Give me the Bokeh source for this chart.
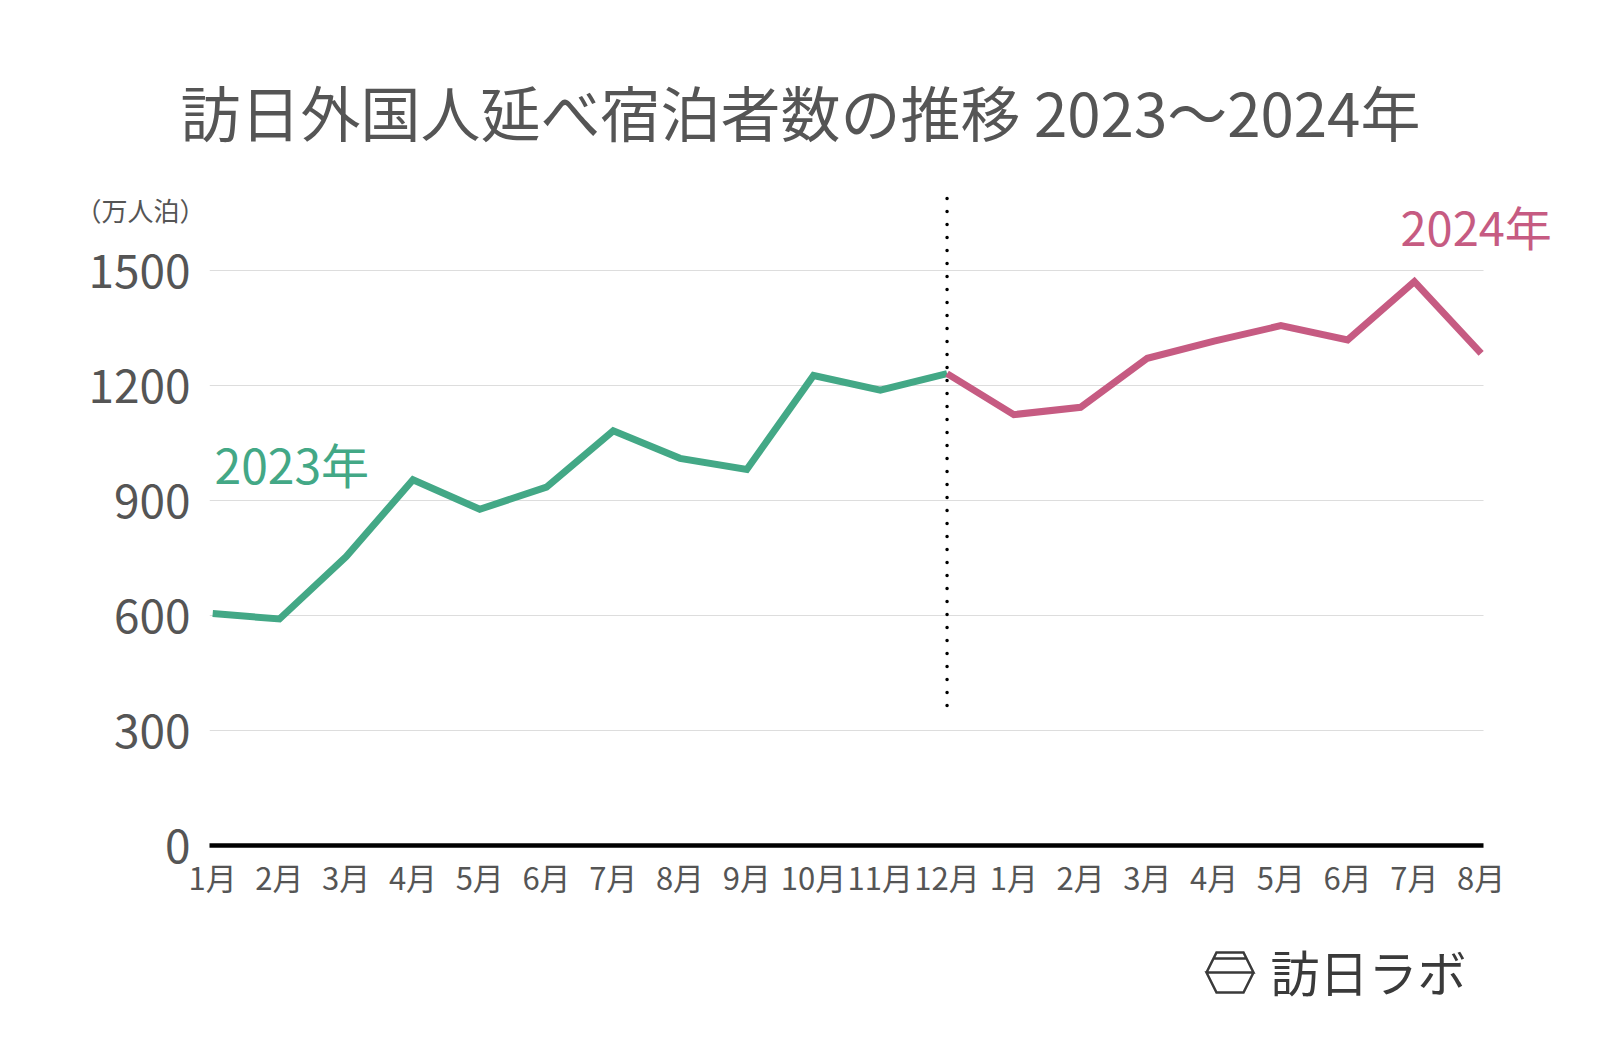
from bokeh.plotting import figure
from bokeh.layouts import column
from bokeh.models import FixedTicker, Label, Range1d, Grid
from bokeh.core.properties import value
from bokeh.embed import file_html
from bokeh.resources import INLINE

# ---- data ----
months_2023 = ["1月", "2月", "3月", "4月", "5月", "6月", "7月", "8月", "9月", "10月", "11月", "12月"]
months_2024 = ["1月", "2月", "3月", "4月", "5月", "6月", "7月", "8月"]
values_2023 = [605, 591, 754, 954, 877, 935, 1082, 1010, 981, 1226, 1188, 1231]
values_2024 = [1124, 1143, 1271, 1316, 1356, 1319, 1471, 1284]
y_ticks = [0, 300, 600, 900, 1200, 1500]

title_text = "訪日外国人延べ宿泊者数の推移 2023〜2024年"
unit_text = "（万人泊）"
label_2023 = "2023年"
label_2024 = "2024年"
logo_text = "訪日ラボ"

FONT = "Noto Sans CJK JP"
TEXT_COL = "#555555"
GREEN = "#43a886"
PINK = "#c65b82"
LOGO_COL = "#3a3a3a"

# ---- geometry (page pixels) ----
W = 1592
MAIN_H = 920
LOGO_H = 120
frame_l, frame_t, frame_b = 209, 185, 845
x0_px, dx_px = 212.2, 66.76           # first month position, month spacing
ppu = 575 / 1500.0                    # px per unit on y
data_right_px = 1483                  # right end of axis line / gridlines


def px2x(px):
    return (px - x0_px) / dx_px


def px2y(py):
    return (frame_b - py) / ppu


x_start = px2x(frame_l)
x_end = px2x(W)
x_data_end = px2x(data_right_px)
y_end = px2y(frame_t)

p = figure(width=W, height=MAIN_H, output_backend="svg", toolbar_location=None,
           x_range=Range1d(x_start, x_end), y_range=Range1d(0, y_end),
           min_border_left=frame_l, min_border_right=0,
           min_border_top=frame_t, min_border_bottom=MAIN_H - frame_b)
p.outline_line_color = None
p.background_fill_color = "white"
p.border_fill_color = "white"

# axes
tick_labels = months_2023 + months_2024
xs_all = list(range(len(tick_labels)))
p.xaxis.ticker = FixedTicker(ticks=xs_all)
p.xaxis.major_label_overrides = {i: t for i, t in zip(xs_all, tick_labels)}
p.xaxis.bounds = (x_start, x_data_end)
p.xaxis.axis_line_color = "black"
p.xaxis.axis_line_width = 4.5
p.xaxis.major_tick_line_color = None
p.xaxis.minor_tick_line_color = None
p.xaxis.major_label_text_font = FONT
p.xaxis.major_label_text_font_size = "31px"
p.xaxis.major_label_text_color = TEXT_COL
p.xaxis.major_label_standoff = 2

p.yaxis.ticker = FixedTicker(ticks=y_ticks)
p.yaxis.axis_line_color = None
p.yaxis.major_tick_line_color = None
p.yaxis.minor_tick_line_color = None
p.yaxis.major_label_text_font = FONT
p.yaxis.major_label_text_font_size = "46px"
p.yaxis.major_label_text_color = TEXT_COL
p.yaxis.major_label_standoff = 13

p.xgrid.grid_line_color = None
if "cross_bounds" in Grid.properties():
    p.ygrid.cross_bounds = (x_start, x_data_end)
    p.ygrid.grid_line_color = "#dddddd"
    p.ygrid.grid_line_width = 1
else:
    p.ygrid.grid_line_color = None
    gy = y_ticks[1:]
    p.segment(x0=[x_start] * len(gy), y0=gy, x1=[x_data_end] * len(gy), y1=gy,
              line_color="#dddddd", line_width=1)

# divider
div_x = len(values_2023) - 1
p.segment(x0=[div_x], y0=[px2y(705)], x1=[div_x], y1=[px2y(189)],
          line_color="black", line_width=3.5, line_dash="0 13", line_cap="round")

# lines
x23 = list(range(len(values_2023)))
x24 = [div_x] + [len(values_2023) + i for i in range(len(values_2024))]
y24 = [values_2023[-1]] + values_2024
p.line(x23, values_2023, line_color=GREEN, line_width=7, line_join="miter")
p.line(x24, y24, line_color=PINK, line_width=7, line_join="miter")

# series labels (inside frame)
p.add_layout(Label(x=px2x(214), y=px2y(462), text=label_2023, text_font=FONT,
                   text_font_size="48px", text_color=GREEN,
                   text_align="left", text_baseline="middle"))
p.add_layout(Label(x=px2x(1400), y=px2y(225), text=label_2024, text_font=FONT,
                   text_font_size="47px", text_color=PINK,
                   text_align="left", text_baseline="middle"))

# title and unit label (placed in the top side panel so they are not clipped)
p.add_layout(Label(x=px2x(800), y=px2y(110), text=title_text, text_font=FONT,
                   text_font_size="60px", text_color=TEXT_COL,
                   text_align="center", text_baseline="middle"), "above")
p.add_layout(Label(x=px2x(140), y=px2y(209), text=unit_text, text_font=FONT,
                   text_font_size="26px", text_color=TEXT_COL,
                   text_align="center", text_baseline="middle"), "above")

# ---- logo strip (its frame is aligned with the main frame by the column) ----
logo_top = MAIN_H
lg = figure(width=W, height=LOGO_H, output_backend="svg", toolbar_location=None,
            x_range=Range1d(frame_l, W), y_range=Range1d(logo_top + LOGO_H, logo_top),
            x_axis_type=None, y_axis_type=None,
            min_border_left=frame_l, min_border_right=0, min_border_top=0, min_border_bottom=0)
lg.outline_line_color = None
lg.xgrid.grid_line_color = None
lg.ygrid.grid_line_color = None
hex_x = [1206, 1216, 1243, 1253, 1243, 1216, 1206, 1253, 1246, 1213, 1206]
hex_y = [972, 952, 952, 972, 992, 992, 972, 972, 958, 958, 972]
lg.line(hex_x, hex_y, line_color=LOGO_COL, line_width=2.5, line_join="miter")
lg.text(x=[1270], y=[970], text=[logo_text], text_font=value(FONT),
        text_font_size="49px", text_color=LOGO_COL,
        text_align="left", text_baseline="middle")

layout = column(p, lg, spacing=0)
open("out.html", "w").write(file_html(layout, INLINE))
